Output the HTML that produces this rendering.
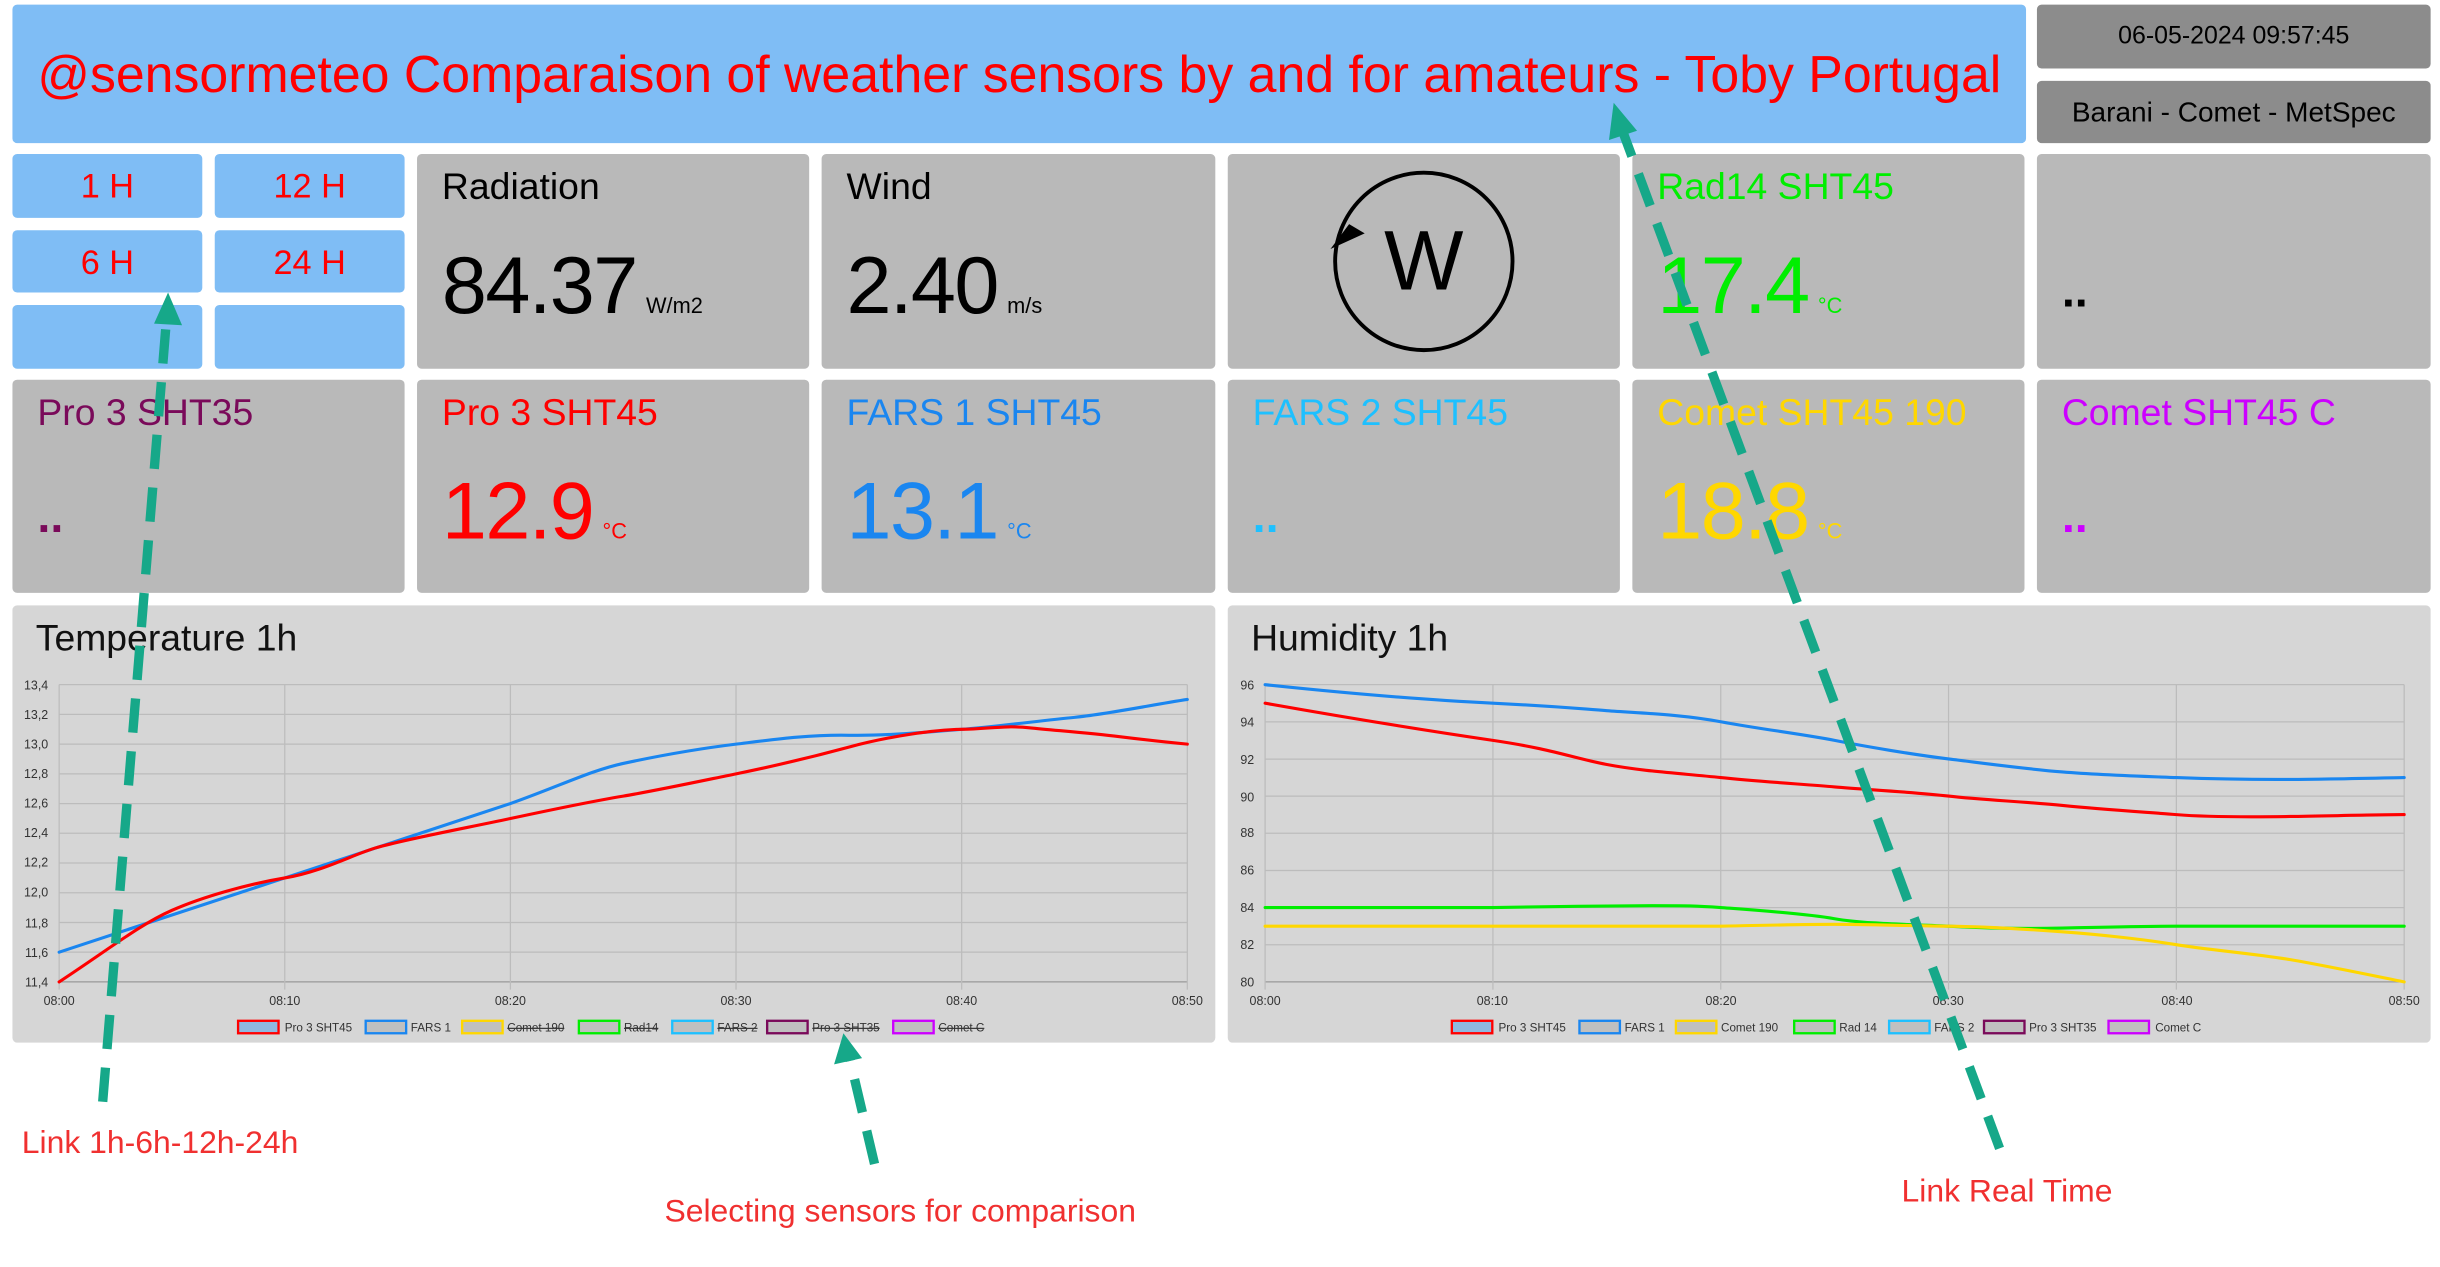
<!DOCTYPE html>
<html><head><meta charset="utf-8"><style>
html,body{margin:0;padding:0;background:#fff;overflow:hidden;width:2440px;height:1266px}
#c{position:absolute;left:0;top:0;width:1568px;height:814px;transform:scale(1.5561);transform-origin:0 0;font-family:"Liberation Sans",sans-serif}
.b{position:absolute;box-sizing:border-box;border-radius:3px}
.blue{background:#7fbdf5}
.g{background:#b9b9b9}
.btn{color:#f00;font-size:22px;text-align:center;line-height:41px}
.lbl{position:absolute;left:16px;top:8px;font-size:24px}
.val{position:absolute;left:16px;top:55px;font-size:52px;letter-spacing:-1px}
.val small{font-size:14px;letter-spacing:0;margin-left:6px}
.dots{position:absolute;left:16px;top:72px;font-size:30px;font-weight:bold}
</style></head><body><div id="c">
<div class="b blue" style="left:8px;top:3px;width:1294px;height:89px;color:#f00;font-size:33.3px;line-height:92px;padding-left:16px;white-space:nowrap">@sensormeteo Comparaison of weather sensors by and for amateurs - Toby Portugal</div>
<div class="b" style="left:1309px;top:3px;width:253px;height:41px;background:#8c8c8c;text-align:center;line-height:42px;font-size:16px">06-05-2024 09:57:45</div>
<div class="b" style="left:1309px;top:52px;width:253px;height:40px;background:#8c8c8c;text-align:center;line-height:41px;font-size:18px">Barani - Comet - MetSpec</div>
<div class="b blue btn" style="left:8px;top:99px;width:122px;height:41px">1 H</div>
<div class="b blue btn" style="left:138px;top:99px;width:122px;height:41px">12 H</div>
<div class="b blue btn" style="left:8px;top:148px;width:122px;height:40px">6 H</div>
<div class="b blue btn" style="left:138px;top:148px;width:122px;height:40px">24 H</div>
<div class="b blue" style="left:8px;top:196px;width:122px;height:41px"></div>
<div class="b blue" style="left:138px;top:196px;width:122px;height:41px"></div>

<div class="b g" style="left:268px;top:99px;width:252px;height:138px"><div class="lbl">Radiation</div><div class="val">84.37<small>W/m2</small></div></div>
<div class="b g" style="left:528px;top:99px;width:253px;height:138px"><div class="lbl">Wind</div><div class="val">2.40<small>m/s</small></div></div>
<div class="b g" style="left:789px;top:99px;width:252px;height:138px">
<svg width="252" height="138" style="position:absolute;left:0;top:0"><circle cx="126" cy="69" r="57" fill="none" stroke="#000" stroke-width="2.5"/><text x="126" y="87" font-size="54" text-anchor="middle" font-family="Liberation Sans">W</text><polygon points="66,61 88,51 78,45" fill="#000"/></svg></div>
<div class="b g" style="left:1049px;top:99px;width:252px;height:138px;color:#00ee00"><div class="lbl">Rad14 SHT45</div><div class="val">17.4<small>°C</small></div></div>
<div class="b g" style="left:1309px;top:99px;width:253px;height:138px"><div class="dots">..</div></div>

<div class="b g" style="left:8px;top:244px;width:252px;height:137px;color:#7a0a5a"><div class="lbl">Pro 3 SHT35</div><div class="dots">..</div></div>
<div class="b g" style="left:268px;top:244px;width:252px;height:137px;color:#f00"><div class="lbl">Pro 3 SHT45</div><div class="val">12.9<small>°C</small></div></div>
<div class="b g" style="left:528px;top:244px;width:253px;height:137px;color:#1a86f0"><div class="lbl">FARS 1 SHT45</div><div class="val">13.1<small>°C</small></div></div>
<div class="b g" style="left:789px;top:244px;width:252px;height:137px;color:#1ec0ff"><div class="lbl">FARS 2 SHT45</div><div class="dots">..</div></div>
<div class="b g" style="left:1049px;top:244px;width:252px;height:137px;color:#ffd700"><div class="lbl">Comet SHT45 190</div><div class="val">18.8<small>°C</small></div></div>
<div class="b g" style="left:1309px;top:244px;width:253px;height:137px;color:#cc00ff"><div class="lbl">Comet SHT45 C</div><div class="dots">..</div></div>

<div class="b" style="left:8px;top:389px;width:773px;height:281px;background:#d6d6d6"></div>
<div class="b" style="left:789px;top:389px;width:773px;height:281px;background:#d6d6d6"></div>

<svg width="1568" height="814" style="position:absolute;left:0;top:0" font-family="Liberation Sans">
<text x="23" y="418" font-size="24" fill="#111">Temperature 1h</text>
<text x="804" y="418" font-size="24" fill="#111">Humidity 1h</text>
<g stroke="#bcbcbc" stroke-width="0.8">
<line x1="38" y1="440" x2="763" y2="440"/><line x1="38" y1="459.1" x2="763" y2="459.1"/><line x1="38" y1="478.2" x2="763" y2="478.2"/><line x1="38" y1="497.3" x2="763" y2="497.3"/><line x1="38" y1="516.4" x2="763" y2="516.4"/><line x1="38" y1="535.5" x2="763" y2="535.5"/><line x1="38" y1="554.6" x2="763" y2="554.6"/><line x1="38" y1="573.7" x2="763" y2="573.7"/><line x1="38" y1="592.8" x2="763" y2="592.8"/><line x1="38" y1="611.9" x2="763" y2="611.9"/><line x1="38" y1="631" x2="763" y2="631" stroke="#999"/>
<line x1="38" y1="440" x2="38" y2="636"/><line x1="183" y1="440" x2="183" y2="636"/><line x1="328" y1="440" x2="328" y2="636"/><line x1="473" y1="440" x2="473" y2="636"/><line x1="618" y1="440" x2="618" y2="636"/><line x1="763" y1="440" x2="763" y2="636"/>
<line x1="813" y1="440" x2="1545" y2="440"/><line x1="813" y1="463.9" x2="1545" y2="463.9"/><line x1="813" y1="487.8" x2="1545" y2="487.8"/><line x1="813" y1="511.6" x2="1545" y2="511.6"/><line x1="813" y1="535.5" x2="1545" y2="535.5"/><line x1="813" y1="559.4" x2="1545" y2="559.4"/><line x1="813" y1="583.3" x2="1545" y2="583.3"/><line x1="813" y1="607.1" x2="1545" y2="607.1"/><line x1="813" y1="631" x2="1545" y2="631" stroke="#999"/>
<line x1="813" y1="440" x2="813" y2="636"/><line x1="959.4" y1="440" x2="959.4" y2="636"/><line x1="1105.8" y1="440" x2="1105.8" y2="636"/><line x1="1252.2" y1="440" x2="1252.2" y2="636"/><line x1="1398.6" y1="440" x2="1398.6" y2="636"/><line x1="1545" y1="440" x2="1545" y2="636"/>
</g>
<g font-size="8" fill="#333" text-anchor="end">
<text x="31" y="443">13,4</text><text x="31" y="462">13,2</text><text x="31" y="481">13,0</text><text x="31" y="500">12,8</text><text x="31" y="519">12,6</text><text x="31" y="538">12,4</text><text x="31" y="557">12,2</text><text x="31" y="576">12,0</text><text x="31" y="596">11,8</text><text x="31" y="615">11,6</text><text x="31" y="634">11,4</text>
<text x="806" y="443">96</text><text x="806" y="467">94</text><text x="806" y="491">92</text><text x="806" y="515">90</text><text x="806" y="538">88</text><text x="806" y="562">86</text><text x="806" y="586">84</text><text x="806" y="610">82</text><text x="806" y="634">80</text>
</g>
<g font-size="8" fill="#333" text-anchor="middle">
<text x="38" y="646">08:00</text><text x="183" y="646">08:10</text><text x="328" y="646">08:20</text><text x="473" y="646">08:30</text><text x="618" y="646">08:40</text><text x="763" y="646">08:50</text>
<text x="813" y="646">08:00</text><text x="959" y="646">08:10</text><text x="1106" y="646">08:20</text><text x="1252" y="646">08:30</text><text x="1399" y="646">08:40</text><text x="1545" y="646">08:50</text>
</g>
<g fill="none" stroke-width="2" stroke-linejoin="round" stroke-linecap="round">
<path stroke="#1a86f0" d="M38,611.9 L110.5,588 L183,564.2 L255.5,540.3 L328,516.4 C360,505 380,495 400.5,490.6 S450,481 473,478.2 S520,472 545.5,472.5 S600,470 618,468.7 S670,463 690.5,461 S740,453 763,449.5"/>
<path stroke="#f00" d="M38,631 C70,610 90,594 110.5,585 S160,568 183,564.2 S225,550 241,545 S300,532 328,526 S380,515 400.5,511.6 S450,502 473,497.3 S520,487 545.5,480.1 S600,469 618,468.7 S645,466 661.5,467.7 S700,471 719.5,473.4 S750,477 763,478.2"/>
<path stroke="#1a86f0" d="M813,440 C870,446 920,450 959.4,451.9 S1010,455 1032.6,456.7 S1080,459 1105.8,463.8 S1160,472 1179,475.8 S1230,485 1252.2,487.7 S1300,494 1325.4,496.1 S1380,499 1398.6,499.7 S1450,501 1471.8,500.9 S1530,500 1545,499.7"/>
<path stroke="#f00" d="M813,451.9 C870,462 920,470 959.4,475.8 S1010,487 1032.6,491.3 S1080,497 1105.8,499.7 S1160,504 1179,505.7 S1230,509 1252.2,511.6 S1300,515 1325.4,517.6 S1380,522 1398.6,523.5 S1450,525 1471.8,524.7 S1530,523.5 1545,523.5"/>
<path stroke="#00ee00" d="M813,583.2 L959.4,583.2 S1040,582 1061.9,582 S1090,582 1105.8,583.2 S1160,587 1179,590.4 S1230,594 1252.2,595.2 S1300,597 1325.4,596.4 S1380,595.2 1398.6,595.2 L1545,595.2"/>
<path stroke="#ffd700" d="M813,595.2 L1105.8,595.2 S1160,594 1179,594 S1230,595 1252.2,595.2 S1300,597 1325.4,598.8 S1380,604 1398.6,607.1 S1450,613 1471.8,616.7 S1530,628 1545,631"/>
</g>
<g font-size="7.5" fill="#333" stroke-width="1.5">
<rect x="153" y="656" width="26" height="8" fill="#8fb9e0" stroke="#f00"/><text x="183" y="663">Pro 3 SHT45</text>
<rect x="235" y="656" width="26" height="8" fill="#c0c0c0" stroke="#1a86f0"/><text x="264" y="663">FARS 1</text>
<rect x="297" y="656" width="26" height="8" fill="#c0c0c0" stroke="#ffd700"/><text x="326" y="663" text-decoration="line-through">Comet 190</text>
<rect x="372" y="656" width="26" height="8" fill="#c0c0c0" stroke="#00ee00"/><text x="401" y="663" text-decoration="line-through">Rad14</text>
<rect x="432" y="656" width="26" height="8" fill="#c0c0c0" stroke="#1ec0ff"/><text x="461" y="663" text-decoration="line-through">FARS 2</text>
<rect x="493" y="656" width="26" height="8" fill="#c0c0c0" stroke="#7a0a5a"/><text x="522" y="663" text-decoration="line-through">Pro 3 SHT35</text>
<rect x="574" y="656" width="26" height="8" fill="#c0c0c0" stroke="#cc00ff"/><text x="603" y="663" text-decoration="line-through">Comet C</text>
<rect x="933" y="656" width="26" height="8" fill="#8fb9e0" stroke="#f00"/><text x="963" y="663">Pro 3 SHT45</text>
<rect x="1015" y="656" width="26" height="8" fill="#c0c0c0" stroke="#1a86f0"/><text x="1044" y="663">FARS 1</text>
<rect x="1077" y="656" width="26" height="8" fill="#c0c0c0" stroke="#ffd700"/><text x="1106" y="663">Comet 190</text>
<rect x="1153" y="656" width="26" height="8" fill="#c0c0c0" stroke="#00ee00"/><text x="1182" y="663">Rad 14</text>
<rect x="1214" y="656" width="26" height="8" fill="#c0c0c0" stroke="#1ec0ff"/><text x="1243" y="663">FARS 2</text>
<rect x="1275" y="656" width="26" height="8" fill="#c0c0c0" stroke="#7a0a5a"/><text x="1304" y="663">Pro 3 SHT35</text>
<rect x="1355" y="656" width="26" height="8" fill="#c0c0c0" stroke="#cc00ff"/><text x="1385" y="663">Comet C</text>
</g>
<g stroke="#16a889" stroke-width="6" stroke-dasharray="22,12" fill="none">
<line x1="66" y1="708" x2="107" y2="205"/>
<line x1="562" y1="748" x2="546" y2="680"/>
<line x1="1285" y1="738" x2="1043" y2="85"/>
</g>
<g fill="#16a889">
<polygon points="108,188 99,208 117,209"/>
<polygon points="542,664 536,684 554,680"/>
<polygon points="1037,66 1034,90 1052,84"/>
</g>
<g font-size="20.5" fill="#f03030">
<text x="14" y="741">Link 1h-6h-12h-24h</text>
<text x="427" y="785">Selecting sensors for comparison</text>
<text x="1222" y="772">Link Real Time</text>
</g>
</svg>
</div></body></html>
